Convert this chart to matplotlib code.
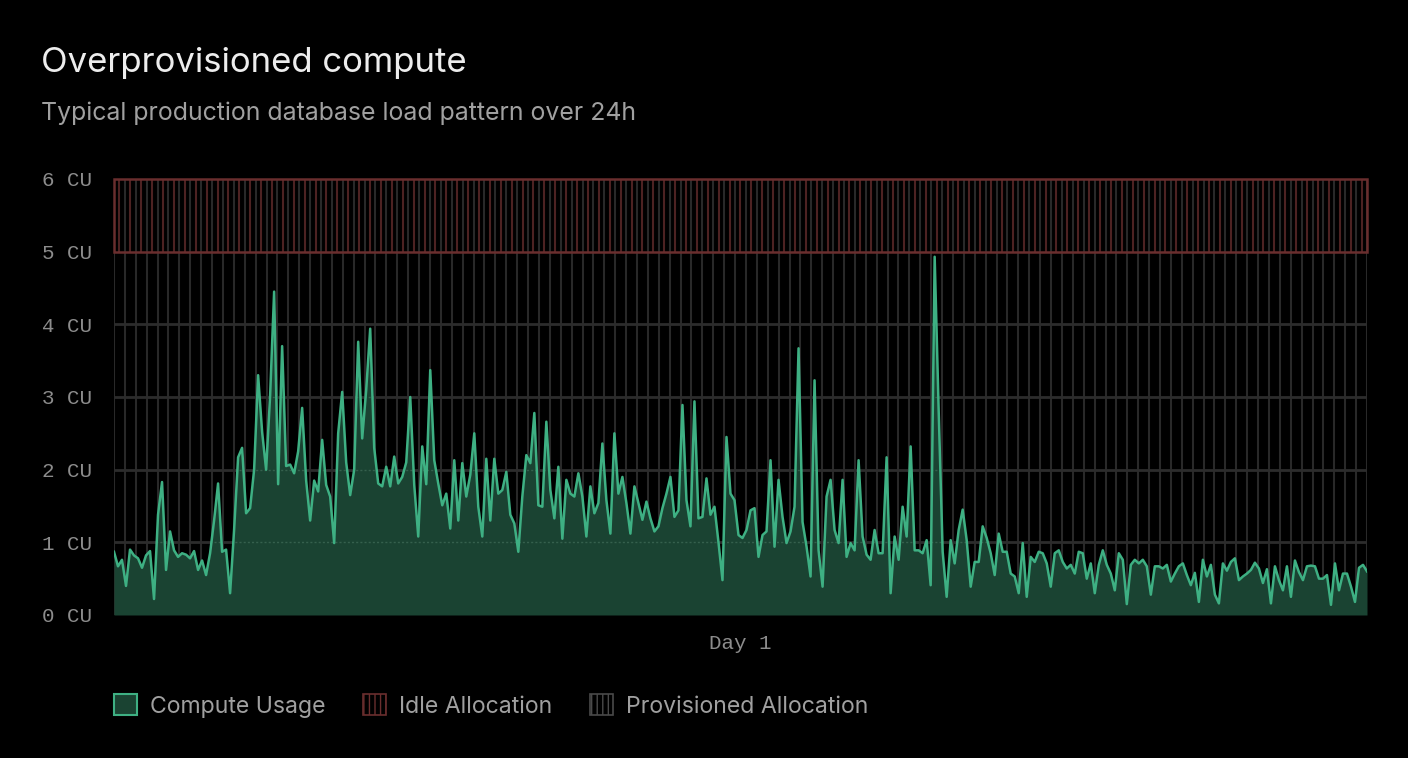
import numpy as np
import matplotlib.pyplot as plt
from matplotlib.patches import Patch, Rectangle

# compute usage in CU, one reading every ~4.6 min, split in 4h chunks
usage_00_04 = [0.87, 0.67, 0.76, 0.40, 0.90, 0.82, 0.78, 0.65, 0.82, 0.88,
               0.22, 1.38, 1.83, 0.62, 1.15, 0.89, 0.80, 0.85, 0.83, 0.78,
               0.88, 0.62, 0.75, 0.55, 0.85, 1.30, 1.81, 0.87, 0.90, 0.30,
               1.17, 2.17, 2.30, 1.40, 1.47, 2.00, 3.30, 2.52, 2.00, 3.02,
               4.45, 1.80, 3.70, 2.05, 2.07, 1.95, 2.25, 2.85, 1.85, 1.30,
               1.85, 1.70]
usage_04_08 = [2.41, 1.79, 1.63, 0.99, 2.50, 3.07, 2.10, 1.65, 2.00, 3.76,
               2.43, 3.10, 3.94, 2.30, 1.81, 1.77, 2.04, 1.77, 2.18, 1.81,
               1.90, 2.10, 3.00, 1.79, 1.08, 2.32, 1.80, 3.37, 2.13, 1.81,
               1.51, 1.67, 1.19, 2.13, 1.30, 2.09, 1.63, 1.93, 2.50, 1.49,
               1.08, 2.15, 1.30, 2.15, 1.67, 1.72, 1.97, 1.38, 1.26, 0.87,
               1.63, 2.20, 2.09]
usage_08_12 = [2.78, 1.51, 1.49, 2.66, 1.72, 1.33, 2.04, 1.05, 1.86, 1.67,
               1.63, 1.95, 1.63, 1.08, 1.77, 1.40, 1.54, 2.36, 1.58, 1.12,
               2.50, 1.67, 1.90, 1.54, 1.12, 1.77, 1.54, 1.31, 1.56, 1.33,
               1.15, 1.22, 1.47, 1.67, 1.90, 1.35, 1.44, 2.89, 1.58, 1.22,
               2.94, 1.33, 1.35, 1.88, 1.38, 1.49, 1.00, 0.48, 2.45, 1.67,
               1.58, 1.10]
usage_12_16 = [1.06, 1.17, 1.44, 1.47, 0.80, 1.10, 1.15, 2.13, 0.94, 1.86,
               1.35, 0.99, 1.15, 1.49, 3.67, 1.28, 0.94, 0.53, 3.23, 0.89,
               0.39, 1.63, 1.86, 1.17, 0.99, 1.86, 0.80, 0.99, 0.89, 2.13,
               1.08, 0.83, 0.76, 1.17, 0.85, 0.85, 2.17, 0.30, 1.08, 0.76,
               1.49, 1.08, 2.32, 0.89, 0.89, 0.85, 1.03, 0.41, 4.93, 2.82,
               0.87, 0.25, 1.03]
usage_16_20 = [0.71, 1.17, 1.45, 1.03, 0.39, 0.73, 0.73, 1.22, 1.06, 0.85,
               0.55, 1.12, 0.87, 0.87, 0.57, 0.53, 0.30, 0.99, 0.25, 0.80,
               0.73, 0.87, 0.85, 0.71, 0.39, 0.85, 0.89, 0.73, 0.64, 0.69,
               0.57, 0.87, 0.85, 0.50, 0.71, 0.30, 0.69, 0.89, 0.69, 0.57,
               0.34, 0.85, 0.76, 0.15, 0.69, 0.76, 0.71, 0.76, 0.67, 0.28,
               0.67, 0.67]
usage_20_24 = [0.64, 0.69, 0.46, 0.57, 0.67, 0.71, 0.55, 0.41, 0.58, 0.18,
               0.76, 0.53, 0.69, 0.28, 0.16, 0.71, 0.61, 0.73, 0.78, 0.48,
               0.53, 0.57, 0.62, 0.72, 0.64, 0.44, 0.63, 0.16, 0.67, 0.48,
               0.34, 0.67, 0.25, 0.75, 0.59, 0.48, 0.67, 0.68, 0.67, 0.50,
               0.50, 0.55, 0.14, 0.71, 0.34, 0.57, 0.57, 0.39, 0.18, 0.65,
               0.69, 0.60]

provisioned_cu = 5
allocated_cu = 6
y_ticks = [0, 1, 2, 3, 4, 5, 6]
y_labels = [f'{v} CU' for v in y_ticks]
x_label = 'Day 1'
title = 'Overprovisioned compute'
subtitle = 'Typical production database load pattern over 24h'
legend_labels = ['Compute Usage', 'Idle Allocation', 'Provisioned Allocation']

usage = np.array(usage_00_04 + usage_04_08 + usage_08_12 +
                 usage_12_16 + usage_16_20 + usage_20_24)
hours = np.linspace(0, 24, len(usage))

GREEN = '#3eb083'
GREEN_FILL = '#1a4332'
RED = '#6a2e2e'
RED_HATCH = '#4d2222'
GRID = '#2c2c2c'
MONO = 'Liberation Mono'

fig = plt.figure(figsize=(14.08, 7.58), dpi=100, facecolor='black')
ax = fig.add_axes([114/1408, 143/758, 1253/1408, 436/758])
ax.set_facecolor('black')
ax.set_xlim(0, 24)
ax.set_ylim(0, allocated_cu)
for s in ax.spines.values():
    s.set_visible(False)

#vertical hatching for the allocation bands
step = 24 / 115
gray_x = np.arange(116) * step
ax.vlines(gray_x, 0, allocated_cu, color='#292929', lw=1.5, zorder=1)
ax.vlines(gray_x[:-1] + step/2, provisioned_cu, allocated_cu,
          color=RED_HATCH, lw=1.5, zorder=1)
ax.hlines(y_ticks[1:provisioned_cu], 0, 24, color=GRID, lw=2, zorder=1)
ax.add_patch(Rectangle((0, provisioned_cu), 24, allocated_cu - provisioned_cu,
                       fill=False, edgecolor=RED, lw=1.8, zorder=3, clip_on=False))

#usage area + line
fill = ax.fill_between(hours, usage, 0, color=GREEN_FILL, lw=0, zorder=2)
for y in y_ticks[1:4]:
    ln = ax.axhline(y, color='#35604d', lw=1, ls=(0, (1.5, 1.5)), zorder=3)
    ln.set_clip_path(fill.get_paths()[0], ax.transData)
ax.plot(hours, usage, color=GREEN, lw=1.8, zorder=4)

ax.set_yticks(y_ticks, y_labels, family=MONO)
ax.set_xticks([12], [x_label], family=MONO)
ax.tick_params(length=0, labelsize=15, labelcolor='#8c8c8c')
ax.tick_params(axis='y', pad=16)
ax.tick_params(axis='x', pad=14)

fig.text(41/1408, 1 - 63/758, title, fontsize=25, color='#ededed',
         family='Inter', va='center')
fig.text(41/1408, 1 - 113/758, subtitle, fontsize=17.9, color='#a0a0a0',
         family='Inter', va='center')

handles = [Patch(facecolor=GREEN_FILL, edgecolor=GREEN, lw=1.5),
           Patch(facecolor='black', edgecolor=RED, hatch='|||', lw=1.2),
           Patch(facecolor='black', edgecolor='#4a4a4a', hatch='|||', lw=1.2)]
fig.legend(handles, legend_labels, loc='center left',
           bbox_to_anchor=(114/1408, 1 - 706/758), ncol=3, frameon=False,
           prop={'family': 'Inter', 'size': 16.6}, labelcolor='#a0a0a0',
           handlelength=1.0, handleheight=1.0, handletextpad=0.55,
           columnspacing=1.65, borderpad=0, borderaxespad=0)

fig.savefig('out.png', dpi=100, facecolor='black')
